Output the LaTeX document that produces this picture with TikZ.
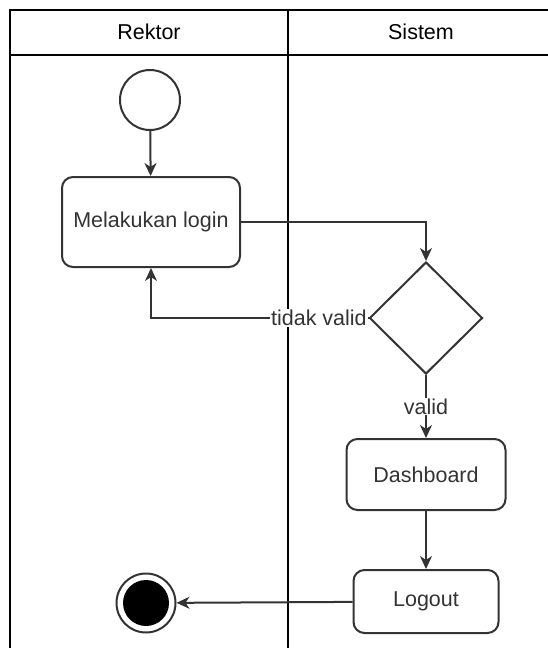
\documentclass[tikz,border=0pt]{standalone}
\usepackage{fontspec}
\setmainfont{Liberation Sans}
\usetikzlibrary{shapes.geometric,arrows.meta}
\definecolor{ink}{HTML}{333333}
\tikzset{
  lane/.style={line width=1.5pt,draw=black},
  act/.style={draw=ink,line width=2pt,rounded corners=11pt,text=ink,font=\fontsize{21.5}{25}\selectfont,inner sep=0pt},
  flow/.style={draw=ink,line width=2pt,-{Stealth[length=13pt,width=12pt,inset=4pt]}},
  lbl/.style={fill=white,text=ink,font=\fontsize{21.5}{25}\selectfont,inner sep=1pt},
  hdr/.style={text=black,font=\fontsize{21.5}{25}\selectfont}
}
\begin{document}
\begin{tikzpicture}[x=1pt,y=-1pt]
\useasboundingbox (0,0) rectangle (547,648);
% swimlanes
\draw[lane] (10,648) -- (10,10) -- (548,10);
\draw[lane] (10,55) -- (548,55);
\draw[lane] (288,10) -- (288,648);
\node[hdr] (h1) at (149,32) {Rektor};
\node[hdr] (h2) at (421,32) {Sistem};
% nodes
\node[circle,draw=ink,line width=2pt,minimum size=60pt,inner sep=0pt] (start) at (150,100) {};
\node[act,minimum width=178pt,minimum height=90pt] (login) at (151,222) {Melakukan login};
\node[diamond,draw=ink,line width=2pt,minimum width=113pt,minimum height=112pt,inner sep=0pt] (dec) at (426,318) {};
\node[act,minimum width=159pt,minimum height=71pt] (dash) at (426,474.5) {Dashboard};
\node[act,minimum width=145pt,minimum height=63pt] (logout) at (426,601.5) {Logout};
\node[circle,draw=ink,line width=2pt,minimum size=59pt,inner sep=0pt,
  path picture={\fill[black] (path picture bounding box.center) circle (23);}] (end) at (146,603) {};
% edges
\draw[flow] (start) -- (login);
\draw[flow] (login.east) -| (dec.north);
\draw[flow] (dec.west) -| node[lbl,pos=0.114] {tidak valid} (login.south);
\draw[flow] (dec.south) -- node[lbl] {valid} (dash.north);
\draw[flow] (dash) -- (logout);
\draw[flow] (logout) -- (end);
\end{tikzpicture}
\end{document}
